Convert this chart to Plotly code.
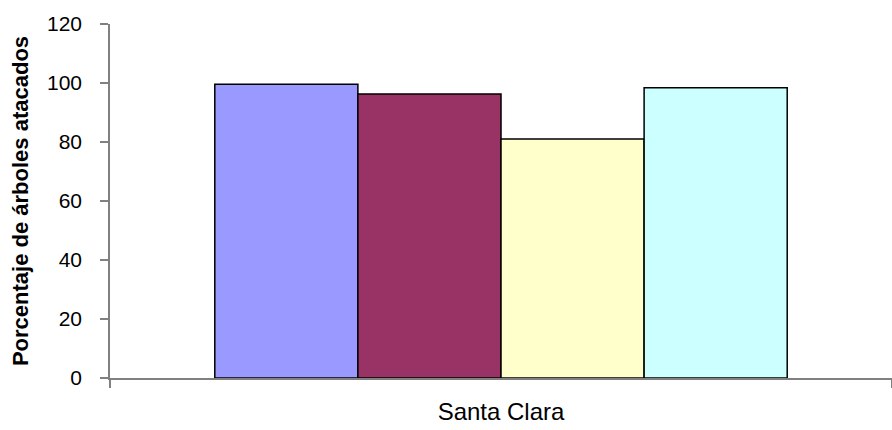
import plotly.graph_objects as go

categories = ["Santa Clara"]
series_names = ["Serie 1", "Serie 2", "Serie 3", "Serie 4"]
series_values = [[99.6], [96.3], [81.0], [98.4]]
series_colors = ["#9999FF", "#993366", "#FFFFCC", "#CCFFFF"]
y_ticks = [0, 20, 40, 60, 80, 100, 120]

fig = go.Figure()
for name, vals, col in zip(series_names, series_values, series_colors):
    fig.add_trace(go.Bar(x=categories, y=vals, name=name,
                         marker=dict(color=col, line=dict(color="black", width=1.5))))

fig.update_layout(
    width=892, height=430,
    margin=dict(l=110, r=0, t=24, b=52, autoexpand=False),
    barmode="group", bargap=0.268, bargroupgap=0,
    showlegend=False,
    plot_bgcolor="white", paper_bgcolor="white",
    font=dict(family="Liberation Sans, Arial", size=21, color="black"),
)
fig.update_yaxes(
    range=[0, 120], tickvals=y_ticks, showgrid=False, zeroline=False,
    showline=True, linecolor="#808080", linewidth=1.5,
    ticks="outside", ticklen=8, tickcolor="#808080", tickwidth=1.5,
    ticklabelstandoff=14,
    title=dict(text="<b>Porcentaje de árboles atacados</b>", font=dict(size=22), standoff=12),
)
fig.update_xaxes(
    showgrid=False, showline=True, linecolor="#808080", linewidth=1.5,
    ticks="outside", tickson="boundaries", ticklen=8, tickcolor="#808080", tickwidth=1.5,
    tickfont=dict(size=24), ticklabelstandoff=11,
)
fig.write_html("out.html", config={"displayModeBar": False},
               post_script="document.body.style.margin='0';")
